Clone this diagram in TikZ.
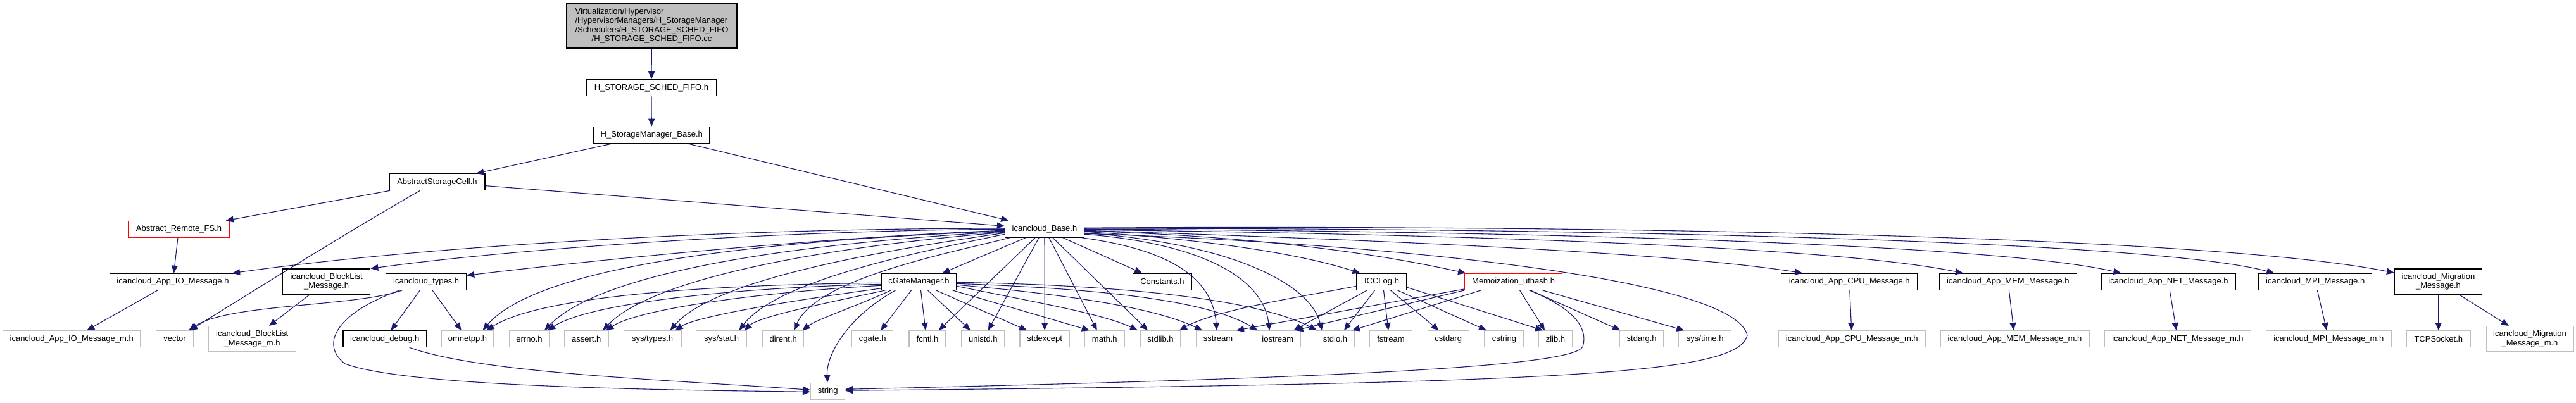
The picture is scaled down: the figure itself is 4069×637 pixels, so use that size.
\documentclass[tikz,border=0pt]{standalone}
\usepackage{fontspec}
\setmainfont{Liberation Sans}
\usetikzlibrary{arrows.meta,calc}
\definecolor{edgec}{HTML}{191970}
\definecolor{grey75}{HTML}{BFBFBF}
\definecolor{redb}{HTML}{FF0000}
\newcommand\dgfont{\fontsize{6.5pt}{7.3pt}\selectfont}
\tikzset{
  dbox/.style={draw=black, fill=white, line width=0.6pt, inner sep=0pt, minimum height=13pt, font=\dgfont, align=center},
  sbox/.style={dbox, draw=grey75},
  rbox/.style={dbox, draw=redb},
  tall/.style={minimum height=20.15pt},
  dep/.style={draw=edgec, line width=0.55pt, -{Triangle[length=6pt,width=5pt]}},
}
\begin{document}
\begin{tikzpicture}[x=0.5pt,y=-0.5pt]
\fill[white] (0,0) rectangle (4069,637);
\useasboundingbox (0,0) rectangle (4069,637);
% rows 0-4
\node[dbox, fill=grey75, minimum width=134.5pt, minimum height=35pt] (top) at (1029.5,41) {\begin{tabular}{@{}l@{}}Virtualization/Hypervisor\\/HypervisorManagers/H\_StorageManager\\/Schedulers/H\_STORAGE\_SCHED\_FIFO\\\multicolumn{1}{@{}c@{}}{/H\_STORAGE\_SCHED\_FIFO.cc}\end{tabular}};
\node[dbox, minimum width=103pt] (sched) at (1029,138.7) {H\_STORAGE\_SCHED\_FIFO.h};
\node[dbox, minimum width=91.5pt] (smbase) at (1029.3,213.3) {H\_StorageManager\_Base.h};
\node[dbox, minimum width=75.5pt] (asc) at (690.5,287.7) {AbstractStorageCell.h};
\node[rbox, minimum width=79.7pt] (arfs) at (282.5,362.3) {Abstract\_Remote\_FS.h};
\node[dbox, minimum width=62.5pt] (base) at (1650,362.2) {icancloud\_Base.h};
% row 5
\node[dbox, minimum width=99.5pt] (appio) at (273,445.3) {icancloud\_App\_IO\_Message.h};
\node[dbox, tall, minimum width=69.2pt] (blist) at (515.6,445.2) {icancloud\_BlockList\\\_Message.h};
\node[dbox, minimum width=63.5pt] (types) at (673.2,445.3) {icancloud\_types.h};
\node[dbox, minimum width=59.5pt] (cgate) at (1451.5,445.3) {cGateManager.h};
\node[dbox, minimum width=46.5pt] (consts) at (1836,445.3) {Constants.h};
\node[dbox, minimum width=39.5pt] (icclog) at (2182.5,445.3) {ICCLog.h};
\node[rbox, minimum width=76.9pt] (memo) at (2390.6,445.3) {Memoization\_uthash.h};
\node[dbox, minimum width=107.4pt] (cpu) at (2921.2,445.3) {icancloud\_App\_CPU\_Message.h};
\node[dbox, minimum width=108.4pt] (mem) at (3171.8,445.3) {icancloud\_App\_MEM\_Message.h};
\node[dbox, minimum width=106pt] (net) at (3425,445.3) {icancloud\_App\_NET\_Message.h};
\node[dbox, minimum width=89.3pt] (mpi) at (3657.2,445.3) {icancloud\_MPI\_Message.h};
\node[dbox, tall, minimum width=68.9pt] (migr) at (3851.5,445.2) {icancloud\_Migration\\\_Message.h};
% row 6
\node[sbox, minimum width=108.7pt] (appiom) at (113.2,535.7) {icancloud\_App\_IO\_Message\_m.h};
\node[sbox, minimum width=29.4pt] (vector) at (276.1,535.7) {vector};
\node[sbox, tall, minimum width=69.2pt] (blistm) at (398.2,535.8) {icancloud\_BlockList\\\_Message\_m.h};
\node[dbox, minimum width=65.7pt] (debug) at (607.7,535.7) {icancloud\_debug.h};
\node[sbox, minimum width=41.5pt] (omnetpp) at (738.5,535.7) {omnetpp.h};
\node[sbox, minimum width=31.2pt] (errno) at (836,535.7) {errno.h};
\node[sbox, minimum width=34.7pt] (assert) at (926.3,535.7) {assert.h};
\node[sbox, minimum width=45.3pt] (systypes) at (1030.6,535.7) {sys/types.h};
\node[sbox, minimum width=40.1pt] (sysstat) at (1139.6,535.7) {sys/stat.h};
\node[sbox, minimum width=32.5pt] (dirent) at (1237.2,535.7) {dirent.h};
\node[sbox, minimum width=32.5pt] (cgateh) at (1378.2,535.7) {cgate.h};
\node[sbox, minimum width=29pt] (fcntl) at (1465,535.7) {fcntl.h};
\node[sbox, minimum width=33.8pt] (unistd) at (1552.8,535.7) {unistd.h};
\node[sbox, minimum width=39.2pt] (stdexcept) at (1650.2,535.7) {stdexcept};
\node[sbox, minimum width=31.2pt] (math) at (1744.8,535.7) {math.h};
\node[sbox, minimum width=31.9pt] (stdlib) at (1833,535.7) {stdlib.h};
\node[sbox, minimum width=34.7pt] (sstream) at (1924,535.7) {sstream};
\node[sbox, minimum width=36pt] (iostream) at (2018.3,535.7) {iostream};
\node[sbox, minimum width=30.7pt] (stdio) at (2109,535.7) {stdio.h};
\node[sbox, minimum width=33.3pt] (fstream) at (2197,535.7) {fstream};
\node[sbox, minimum width=32.6pt] (cstdarg) at (2287.7,535.7) {cstdarg};
\node[sbox, minimum width=31pt] (cstring) at (2376,535.7) {cstring};
\node[sbox, minimum width=26.5pt] (zlib) at (2457,535.7) {zlib.h};
\node[sbox, minimum width=34.5pt] (stdarg) at (2593.2,535.7) {stdarg.h};
\node[sbox, minimum width=41.5pt] (systime) at (2693.2,535.7) {sys/time.h};
\node[sbox, minimum width=116.3pt] (cpum) at (2925.3,535.7) {icancloud\_App\_CPU\_Message\_m.h};
\node[sbox, minimum width=117.5pt] (memm) at (3182.4,535.7) {icancloud\_App\_MEM\_Message\_m.h};
\node[sbox, minimum width=115.5pt] (netm) at (3440,535.7) {icancloud\_App\_NET\_Message\_m.h};
\node[sbox, minimum width=98.8pt] (mpim) at (3678.3,535.7) {icancloud\_MPI\_Message\_m.h};
\node[sbox, minimum width=50.8pt] (tcp) at (3851.8,535.7) {TCPSocket.h};
\node[sbox, tall, minimum width=68.9pt] (migrm) at (3996,535.8) {icancloud\_Migration\\\_Message\_m.h};
% row 7
\node[sbox, minimum width=27.1pt] (string) at (1307.7,618.3) {string};
% top chain
\draw[dep] (top) -- (sched);
\draw[dep] (sched) -- (smbase);
\draw[dep] (smbase) -- (asc);
\draw[dep] (smbase) -- (base);
\draw[dep] (asc) -- (arfs);
\draw[dep] (asc) -- (base);
\draw[dep] ($(asc.south)+(-27,0)$) .. controls (560,360) and (400,460) .. ($(vector.north)+(24,0)$);
\draw[dep] (arfs) -- (appio);
\draw[dep] (appio) -- (appiom);
\draw[dep] (blist) -- (blistm);
\draw[dep] ($(types.south)+(-38,0)$) .. controls (560,485) and (360,480) .. ($(vector.north)+(22,0)$);
\draw[dep] (types) -- (debug);
\draw[dep] (types) -- (omnetpp);
\draw[dep] ($(types.south)+(-42,0)$) .. controls (530,495) and (505,545) .. (545,575) .. controls (640,610) and (1000,616) .. ($(string.west)+(0,1)$);
\draw[dep] ($(debug.south)+(39,0)$) .. controls (760,590) and (1050,600) .. ($(string.west)+(0,-2)$);
% base left
\draw[dep] ($(base.west)+(0,-1)$) .. controls (1200,360) and (700,385) .. ($(appio.north east)+(-6,0)$);
\draw[dep] ($(base.west)+(0,0)$) .. controls (1200,365) and (800,395) .. (blist.north east);
\draw[dep] ($(base.west)+(0,2)$) .. controls (1300,375) and (950,410) .. ($(types.east)+(0,-10)$);
\draw[dep] ($(base.west)+(0,3)$) .. controls (1200,380) and (850,420) .. ($(omnetpp.north)+(24,0)$);
\draw[dep] ($(base.west)+(0,4)$) .. controls (1250,385) and (950,430) .. ($(errno.north)+(24,0)$);
\draw[dep] ($(base.west)+(0,5)$) .. controls (1300,390) and (1030,440) .. ($(assert.north)+(26,0)$);
\draw[dep] ($(base.west)+(0,6)$) .. controls (1400,395) and (1130,440) .. ($(systypes.north)+(28,0)$);
\draw[dep] ($(base.west)+(0,8)$) .. controls (1470,395) and (1230,440) .. ($(sysstat.north)+(28,0)$);
\draw[dep] ($(base.south west)+(8,0)$) .. controls (1500,400) and (1290,440) .. ($(dirent.north)+(17,0)$);
% base bottom
\draw[dep] ($(base.south)+(-30,0)$) -- ($(cgate.north)+(37,0)$);
\draw[dep] ($(base.south)+(-15,0)$) -- ($(fcntl.north)+(18,0)$);
\draw[dep] ($(base.south)+(-9,0)$) -- ($(unistd.north)+(8,0)$);
\draw[dep] (base) -- (stdexcept);
\draw[dep] ($(base.south)+(7,0)$) -- ($(math.north)+(-12,0)$);
\draw[dep] ($(base.south)+(13,0)$) -- ($(stdlib.north)+(-20,0)$);
\draw[dep] ($(base.south)+(29,0)$) -- ($(consts.north)+(-32,0)$);
% base right
\draw[dep] ($(base.south east)+(-4,0)$) .. controls (1850,395) and (1915,440) .. ($(sstream.north)+(-2,0)$);
\draw[dep] ($(base.east)+(0,8)$) .. controls (1900,385) and (1995,440) .. ($(iostream.north)+(-13,0)$);
\draw[dep] ($(base.east)+(0,6)$) .. controls (1950,385) and (2070,450) .. ($(stdio.north)+(-21,0)$);
\draw[dep] ($(base.east)+(0,4)$) .. controls (1900,378) and (2050,400) .. ($(icclog.north west)+(6,0)$);
\draw[dep] ($(base.east)+(0,3)$) .. controls (1950,372) and (2150,395) .. ($(memo.north west)+(2,0)$);
\draw[dep] ($(base.east)+(0,2)$) .. controls (2200,380) and (2650,400) .. ($(cpu.north west)+(34,0)$);
\draw[dep] ($(base.east)+(0,1)$) .. controls (2300,370) and (2900,390) .. ($(mem.north west)+(38,0)$);
\draw[dep] ($(base.east)+(0,0)$) .. controls (2400,365) and (3150,385) .. ($(net.north west)+(32,0)$);
\draw[dep] ($(base.east)+(0,-1)$) .. controls (2500,360) and (3400,380) .. ($(mpi.north west)+(25,0)$);
\draw[dep] ($(base.east)+(0,-2)$) .. controls (2600,355) and (3500,375) .. ($(migr.west)+(0,-14)$);
\draw[dep] ($(base.east)+(0,7)$) .. controls (2200,385) and (2740,440) .. (2760,530) .. controls (2745,590) and (2500,606) .. ($(string.east)+(0,-1)$);
% cGateManager
\draw[dep] ($(cgate.west)+(0,2)$) .. controls (1100,450) and (850,470) .. ($(omnetpp.north)+(30,0)$);
\draw[dep] ($(cgate.west)+(0,4)$) .. controls (1150,455) and (930,480) .. ($(errno.north)+(29,0)$);
\draw[dep] ($(cgate.west)+(0,6)$) .. controls (1200,462) and (1010,488) .. ($(assert.north)+(31,0)$);
\draw[dep] ($(cgate.south west)+(0,-3)$) .. controls (1250,475) and (1100,500) .. ($(systypes.north)+(36,0)$);
\draw[dep] ($(cgate.south west)+(7,0)$) .. controls (1300,480) and (1200,500) .. ($(sysstat.north)+(36,0)$);
\draw[dep] ($(cgate.south west)+(16,0)$) .. controls (1350,485) and (1290,505) .. ($(dirent.north)+(30,0)$);
\draw[dep] ($(cgate.south)+(-12,0)$) -- ($(cgateh.north)+(13,0)$);
\draw[dep] ($(cgate.south)+(3,0)$) -- ($(fcntl.north)+(-3,0)$);
\draw[dep] ($(cgate.south)+(14,0)$) -- ($(unistd.north)+(-20,0)$);
\draw[dep] ($(cgate.south)+(27,0)$) -- ($(stdexcept.north)+(-28,0)$);
\draw[dep] ($(cgate.south east)+(-7,0)$) -- ($(math.north)+(-24,0)$);
\draw[dep] ($(cgate.east)+(0,7)$) .. controls (1620,475) and (1740,495) .. ($(stdlib.north)+(-36,0)$);
\draw[dep] ($(cgate.east)+(0,5)$) .. controls (1680,465) and (1820,485) .. ($(sstream.north)+(-25,0)$);
\draw[dep] ($(cgate.east)+(0,3)$) .. controls (1700,455) and (1900,470) .. ($(iostream.north)+(-32,0)$);
\draw[dep] ($(cgate.east)+(0,1)$) .. controls (1750,450) and (1980,470) .. ($(stdio.north)+(-29,0)$);
\draw[dep] ($(cgate.south)+(-37,0)$) .. controls (1340,500) and (1305,560) .. (string);
% ICCLog
\draw[dep] ($(icclog.west)+(0,7)$) .. controls (2050,470) and (1920,490) .. ($(stdlib.north)+(30,0)$);
\draw[dep] ($(icclog.south west)+(17,0)$) -- ($(iostream.north)+(25,0)$);
\draw[dep] ($(icclog.south)+(-11,0)$) -- ($(stdio.north)+(14,0)$);
\draw[dep] ($(icclog.south)+(3,0)$) -- ($(fstream.north)+(-4,0)$);
\draw[dep] ($(icclog.south)+(14,0)$) -- ($(cstdarg.north)+(-15,0)$);
\draw[dep] ($(icclog.south)+(25,0)$) -- ($(cstring.north)+(-28,0)$);
\draw[dep] ($(icclog.east)+(0,9)$) -- ($(zlib.north)+(-20,0)$);
% Memoization
\draw[dep] ($(memo.south west)+(0,-2)$) -- ($(sstream.north)+(29,0)$);
\draw[dep] (memo.south west) -- ($(iostream.north)+(28,0)$);
\draw[dep] ($(memo.south west)+(26,0)$) -- ($(stdio.north)+(27,0)$);
\draw[dep] ($(memo.south)+(10,0)$) -- ($(zlib.north)+(-17,0)$);
\draw[dep] ($(memo.south)+(27,0)$) -- ($(stdarg.north)+(-34,0)$);
\draw[dep] ($(memo.south)+(46,0)$) -- ($(systime.north)+(-33,0)$);
\draw[dep] ($(memo.south)+(25,0)$) .. controls (2480,485) and (2510,515) .. (2500,548) .. controls (2485,580) and (2100,598) .. ($(string.east)+(0,-3)$);
% message pairs
\draw[dep] (cpu) -- (cpum);
\draw[dep] (mem) -- (memm);
\draw[dep] (net) -- (netm);
\draw[dep] (mpi) -- (mpim);
\draw[dep] (migr) -- (tcp);
\draw[dep] (migr) -- (migrm);
\end{tikzpicture}
\end{document}
